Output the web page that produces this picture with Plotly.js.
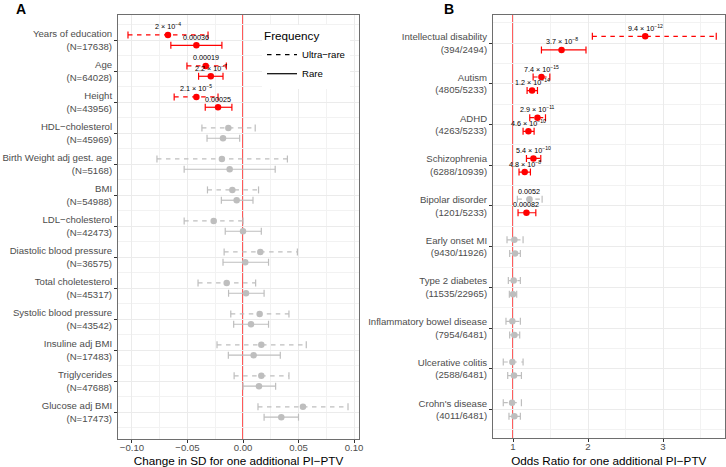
<!DOCTYPE html>
<html><head><meta charset="utf-8">
<script src="https://cdn.plot.ly/plotly-3.0.1.min.js"></script>
<style>html,body{margin:0;padding:0;background:#fff}#chart{width:726px;height:467px}</style>
</head><body><div id="chart"></div>
<script>
// ---------- Panel A data ----------
const traitsA = ["Years of education","Age","Height","HDL−cholesterol","Birth Weight adj gest. age","BMI","LDL−cholesterol","Diastolic blood pressure","Total choletesterol","Systolic blood pressure","Insuline adj BMI","Triglycerides","Glucose adj BMI"];
const nA = [17638,64028,43956,45969,5168,54988,42473,36575,45317,43542,17483,47688,17473];
const ultraA_est = [-0.0676,-0.0336,-0.042,-0.0132,-0.019,-0.0096,-0.0264,0.0156,-0.0147,0.015,0.0165,0.0165,0.054];
const ultraA_lo  = [-0.1036,-0.0505,-0.062,-0.037,-0.0775,-0.032,-0.053,-0.017,-0.0405,-0.011,-0.0234,-0.008,0.0135];
const ultraA_hi  = [-0.0315,-0.015,-0.0225,0.011,0.040,0.014,0.0,0.049,0.0114,0.0414,0.057,0.0414,0.0946];
const ultraA_sig = [1,1,1,0,0,0,0,0,0,0,0,0,0];
const ultraA_lab = ["2 × 10<sup>−4</sup>","0.00019","2.1 × 10<sup>−5</sup>","","","","","","","","","",""];
const rareA_est = [-0.042,-0.029,-0.0225,-0.018,-0.012,-0.0057,0.0,0.002,0.0027,0.0072,0.0096,0.0144,0.0345];
const rareA_lo  = [-0.065,-0.040,-0.034,-0.0324,-0.053,-0.0195,-0.016,-0.018,-0.013,-0.0084,-0.0132,0.0,0.019];
const rareA_hi  = [-0.019,-0.018,-0.010,-0.003,0.029,0.009,0.0165,0.023,0.019,0.023,0.0336,0.0294,0.050];
const rareA_sig = [1,1,1,0,0,0,0,0,0,0,0,0,0];
const rareA_lab = ["0.00036","2.2 × 10<sup>−7</sup>","0.00025","","","","","","","","","",""];
const ticksA = [-0.10,-0.05,0.00,0.05,0.10];

// ---------- Panel B data ----------
const traitsB = ["Intellectual disability","Autism","ADHD","Schizophrenia","Bipolar disorder","Early onset MI","Type 2 diabetes","Inflammatory bowel disease","Ulcerative colitis","Crohn's disease"];
const casesB = ["394/2494","4805/5233","4263/5233","6288/10939","1201/5233","9430/11926","11535/22965","7954/6481","2588/6481","4011/6481"];
const ultraB_est = [2.763,1.379,1.326,1.272,1.219,1.018,1.009,0.991,0.991,0.987];
const ultraB_lo  = [2.058,1.268,1.223,1.179,1.058,0.92,0.9375,0.906,0.87,0.87];
const ultraB_hi  = [3.71,1.491,1.433,1.37,1.388,1.134,1.098,1.098,1.134,1.112];
const ultraB_sig = [1,1,1,1,0,0,0,0,0,0];
const ultraB_lab = ["9.4 × 10<sup>−12</sup>","7.4 × 10<sup>−15</sup>","2.9 × 10<sup>−11</sup>","5.4 × 10<sup>−10</sup>","0.0052","","","","",""];
const rareB_est = [1.647,1.254,1.205,1.156,1.179,1.027,1.0,1.018,1.013,1.018];
const rareB_lo  = [1.379,1.1875,1.134,1.08,1.067,0.955,0.951,0.955,0.929,0.946];
const rareB_hi  = [1.973,1.326,1.281,1.232,1.304,1.098,1.049,1.089,1.112,1.098];
const rareB_sig = [1,1,1,1,1,0,0,0,0,0];
const rareB_lab = ["3.7 × 10<sup>−8</sup>","1.2 × 10<sup>−14</sup>","4.6 × 10<sup>−10</sup>","4.8 × 10<sup>−8</sup>","0.00082","","","","",""];
const ticksB = [1,2,3];

// ---------- styles ----------
const RED = "#FF0000", GREY = "#BEBEBE";
const DASH = "4.5px,4.5px";
const OFF = 0.167;
const FONT = "Liberation Sans, Arial, Helvetica, sans-serif";

const traces = [];
const annotations = [];

// legend entries
traces.push({x:[null],y:[null],mode:"lines",name:"Ultra−rare",line:{color:"#000",width:1.2,dash:DASH},xaxis:"x",yaxis:"y",hoverinfo:"skip"});
traces.push({x:[null],y:[null],mode:"lines",name:"Rare",line:{color:"#000",width:1.2},xaxis:"x",yaxis:"y",hoverinfo:"skip"});

function addSeries(est, lo, hi, sig, lab, off, dash, xa, ya){
  [[0,GREY],[1,RED]].forEach(([s,col])=>{
    const lx=[], ly=[], cx=[], cy=[], px=[], py=[];
    est.forEach((v,i)=>{
      if(sig[i]!==s) return;
      const pos = i + off;
      lx.push(lo[i],hi[i],null); ly.push(pos,pos,null);
      cx.push(lo[i],hi[i]); cy.push(pos,pos);
      px.push(v); py.push(pos);
    });
    if(!px.length) return;
    traces.push({x:lx,y:ly,mode:"lines",line:{color:col,width:1.2,dash:dash||"solid"},xaxis:xa,yaxis:ya,showlegend:false,hoverinfo:"skip"});
    traces.push({x:cx,y:cy,mode:"markers",marker:{symbol:"line-ns",size:5,line:{color:col,width:1.2}},xaxis:xa,yaxis:ya,showlegend:false,hoverinfo:"skip"});
    traces.push({x:px,y:py,mode:"markers",marker:{symbol:"circle",size:6.5,color:col},xaxis:xa,yaxis:ya,showlegend:false});
  });
  lab.forEach((t,i)=>{
    if(!t) return;
    annotations.push({x:est[i],y:i+off,xref:xa,yref:ya,text:t,showarrow:false,xanchor:"center",yanchor:"bottom",yshift:1.5,font:{family:FONT,size:7.2,color:"#000"}});
  });
}

addSeries(ultraA_est,ultraA_lo,ultraA_hi,ultraA_sig,ultraA_lab,-OFF,DASH,"x","y");
addSeries(rareA_est,rareA_lo,rareA_hi,rareA_sig,rareA_lab,OFF,null,"x","y");
addSeries(ultraB_est,ultraB_lo,ultraB_hi,ultraB_sig,ultraB_lab,-OFF,DASH,"x2","y2");
addSeries(rareB_est,rareB_lo,rareB_hi,rareB_sig,rareB_lab,OFF,null,"x2","y2");

annotations.push({xref:"paper",yref:"paper",x:20.5/726,y:1-9/467,text:"<b>A</b>",showarrow:false,xanchor:"center",yanchor:"middle",font:{family:FONT,size:14,color:"#000"}});
annotations.push({xref:"paper",yref:"paper",x:448.5/726,y:1-9/467,text:"<b>B</b>",showarrow:false,xanchor:"center",yanchor:"middle",font:{family:FONT,size:14,color:"#000"}});

const tickFont = {family:FONT,size:9.6,color:"#4D4D4D"};
const titleFont = {family:FONT,size:11.7,color:"#000"};
const common = {showline:true,mirror:true,linecolor:"#6E6E6E",linewidth:1,ticks:"outside",ticklen:3,tickwidth:1,tickcolor:"#333",
  gridcolor:"#EBEBEB",gridwidth:1,zeroline:false,automargin:false,tickfont:tickFont,fixedrange:true};

const layout = {
  width:726,height:467,autosize:false,
  margin:{l:0,r:0,t:0,b:0},
  paper_bgcolor:"#fff",plot_bgcolor:"#fff",
  font:{family:FONT},
  showlegend:true,
  legend:{x:262/726,y:1-25/467,xanchor:"left",yanchor:"top",bgcolor:"#fff",borderwidth:0,
    title:{text:"Frequency",font:titleFont},font:{family:FONT,size:9.6,color:"#000"},itemwidth:30,tracegroupgap:0},
  xaxis:Object.assign({},common,{domain:[118/726,359/726],anchor:"y",range:[-0.1126,0.1045],
    tickmode:"array",tickvals:ticksA,tickformat:".2f",ticklabelstandoff:-4,
    minor:{tickmode:"array",tickvals:ticksA.slice(1).map((v,i)=>(v+ticksA[i])/2),showgrid:true,gridcolor:"#F2F2F2",gridwidth:1,ticks:""},
    title:{text:"Change in SD for one additional PI−PTV",font:titleFont,standoff:6}}),
  yaxis:Object.assign({},common,{domain:[1-439/467,1-15/467],anchor:"x",range:[12.87,-0.81],
    tickmode:"array",tickvals:traitsA.map((_,i)=>i),ticktext:traitsA.map((t,i)=>t+"<br>(N="+nA[i]+")"),
    minor:{tickmode:"array",tickvals:[-0.5].concat(traitsA.map((_,i)=>i+0.5)),showgrid:true,gridcolor:"#F2F2F2",gridwidth:1,ticks:""}}),
  xaxis2:Object.assign({},common,{domain:[493/726,724.5/726],anchor:"y2",range:[0.733,3.82],
    tickmode:"array",tickvals:ticksB,ticklabelstandoff:-4,
    minor:{tickmode:"array",tickvals:ticksB.map(v=>v+0.5),showgrid:true,gridcolor:"#F2F2F2",gridwidth:1,ticks:""},
    title:{text:"Odds Ratio for one additional PI−PTV",font:titleFont,standoff:6}}),
  yaxis2:Object.assign({},common,{domain:[1-438/467,1-15/467],anchor:"x2",range:[9.70,-0.69],
    tickmode:"array",tickvals:traitsB.map((_,i)=>i),ticktext:traitsB.map((t,i)=>t+"<br>("+casesB[i]+")"),
    minor:{tickmode:"array",tickvals:[-0.5].concat(traitsB.map((_,i)=>i+0.5)),showgrid:true,gridcolor:"#F2F2F2",gridwidth:1,ticks:""}}),
  shapes:[
    {type:"line",xref:"x",yref:"y domain",x0:0,x1:0,y0:0,y1:1,line:{color:RED,width:1.3},layer:"below"},
    {type:"line",xref:"x2",yref:"y2 domain",x0:1,x1:1,y0:0,y1:1,line:{color:RED,width:1.3},layer:"below"}
  ],
  annotations:annotations
};

Plotly.newPlot("chart",traces,layout,{displayModeBar:false,staticPlot:true});
</script></body></html>
